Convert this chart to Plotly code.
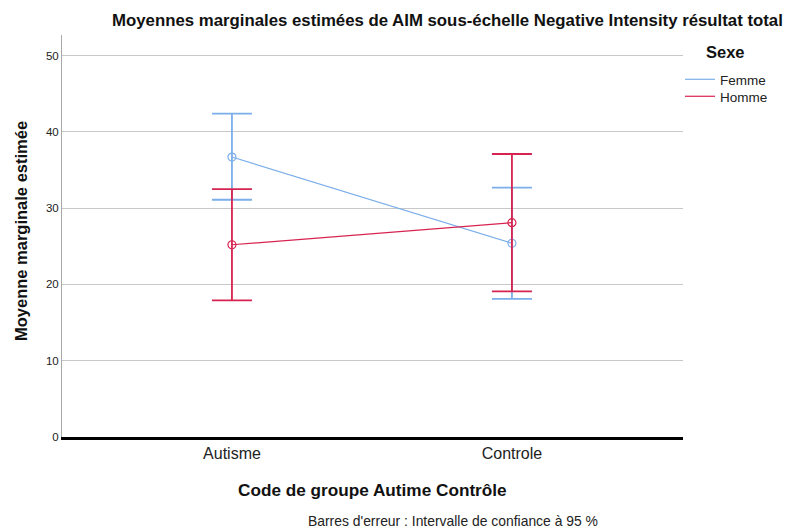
import plotly.graph_objects as go

categories = ["Autisme", "Controle"]
femme_mean = [36.7, 25.4]
femme_upper = [42.4, 32.7]
femme_lower = [31.1, 18.1]
homme_mean = [25.2, 28.1]
homme_upper = [32.5, 37.1]
homme_lower = [17.9, 19.1]

FEMME = "#7BAEEA"
HOMME = "#D7234F"
FONT = "Liberation Sans, Arial, sans-serif"

fig = go.Figure()

def add_series(name, mean, up, lo, color, legend):
    fig.add_trace(go.Scatter(
        x=categories, y=mean, mode="lines+markers", name=name, showlegend=False,
        line=dict(color=color, width=1.2),
        marker=dict(symbol="circle-open", size=8, color=color, line=dict(width=1.2)),
        error_y=dict(type="data", symmetric=False,
                     array=[u - m for u, m in zip(up, mean)],
                     arrayminus=[m - l for m, l in zip(mean, lo)],
                     color=color, thickness=1.8, width=20),
    ))
    fig.add_trace(go.Scatter(x=[None], y=[None], mode="lines", name=name,
                             legend=legend, line=dict(color=color, width=1.2)))

add_series("Femme", femme_mean, femme_upper, femme_lower, FEMME, "legend")
add_series("Homme", homme_mean, homme_upper, homme_lower, HOMME, "legend2")

PL, PR, PT, PB = 62, 683, 35, 437
W, H = 799, 531

def px_x(p):
    return (p - PL) / (PR - PL)

def px_y(p):
    return (PB - p) / (PB - PT)

def leg(top):
    return dict(
        x=px_x(680), y=px_y(top), xanchor="left", yanchor="top",
        font=dict(size=13.5, color="#222"),
        itemwidth=30, bgcolor="rgba(0,0,0,0)",
    )

fig.update_layout(
    width=W, height=H,
    margin=dict(l=PL, r=W - PR, t=PT, b=H - PB, autoexpand=False),
    paper_bgcolor="white", plot_bgcolor="white",
    font=dict(family=FONT, color="#222"),
    legend=leg(64),
    legend2=leg(81),
    xaxis=dict(
        type="category", range=[-0.607, 1.611],
        showgrid=False, showline=True, linecolor="black", linewidth=3,
        ticks="", tickfont=dict(size=16, color="#222"),
        zeroline=False,
    ),
    yaxis=dict(
        range=[0, 52.7], dtick=10, tick0=0,
        showgrid=True, gridcolor="#c8c8c8", gridwidth=1,
        showline=True, linecolor="#aaaaaa", linewidth=1,
        ticks="", tickfont=dict(size=11.5, color="#222"),
        zeroline=False,
    ),
)

def ann(text, x, y, size, angle=0, color="#111"):
    fig.add_annotation(text=text, xref="paper", yref="paper",
                       x=px_x(x), y=px_y(y), xanchor="center", yanchor="middle",
                       showarrow=False, textangle=angle,
                       font=dict(size=size, color=color, family=FONT))

ann("<b>Moyennes marginales estimées de AIM sous-échelle Negative Intensity résultat total</b>",
    447.5, 20, 16.8)
ann("<b>Code de groupe Autime Contrôle</b>", 372.5, 490, 17.2)
ann("<b>Moyenne marginale estimée</b>", 21, 231, 16.5, angle=-90)
ann("<b>Sexe</b>", 725.5, 52, 16.5)
ann("Barres d'erreur : Intervalle de confiance à 95 %", 452.5, 521, 13.9, color="#222")

fig.write_html("out.html", config={"displayModeBar": False},
               post_script="document.body.style.margin='0';")
